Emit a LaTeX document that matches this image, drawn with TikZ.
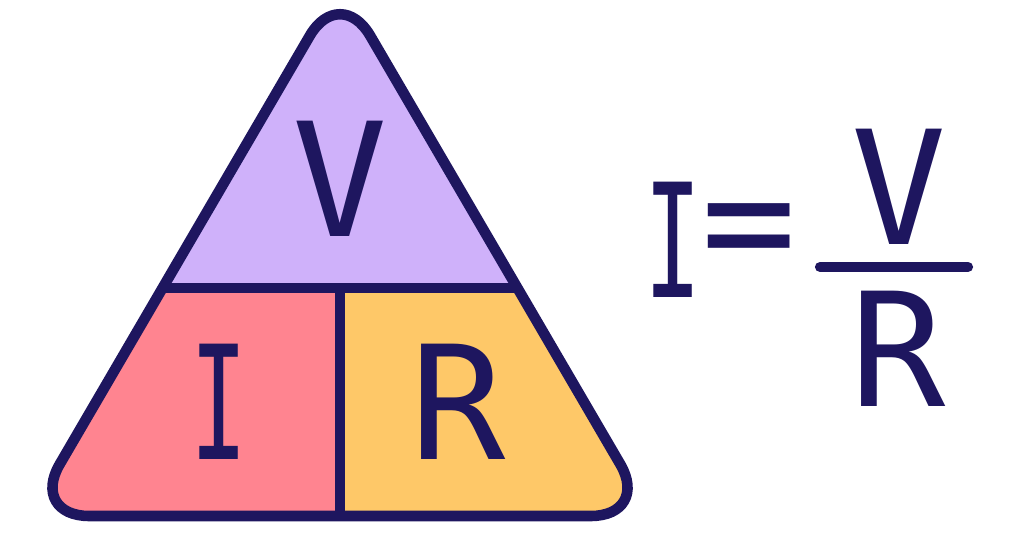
\documentclass[tikz,border=0pt]{standalone}
\usepackage{fontspec}
\newfontfamily\glyphfont{DejaVu Sans Mono}
\definecolor{ink}{RGB}{30,22,95}
\definecolor{lilac}{RGB}{207,177,250}
\definecolor{rose}{RGB}{255,132,144}
\definecolor{amber}{RGB}{254,200,104}
\tikzset{
  px/.style={x={(0.01cm,0cm)}, y={(0cm,-0.01cm)}},
  frame/.style={ink, line width=3pt, line join=round, rounded corners=17pt},
  divider/.style={ink, line width=3pt},
  letter/.style={ink, inner sep=0pt, font=\glyphfont\fontsize{45}{54}\selectfont},
  narrow/.style={letter, xscale=0.6},
  fracbar/.style={ink, line width=2.9pt, line cap=round},
}

\begin{document}
\begin{tikzpicture}[px]
  \useasboundingbox (0,0) rectangle (1024,536);

  % --- coloured parts of the triangle ---
  \begin{scope}
    \clip[rounded corners=17pt] (340,516) -- (650.5,516) -- (340,-16) -- (29.5,516) -- cycle;
    \fill[lilac] (0,-20) rectangle (1024,288);
    \fill[rose]  (0,288) rectangle (340,540);
    \fill[amber] (340,288) rectangle (1024,540);
  \end{scope}

  % --- dividers ---
  \coordinate (hl) at (162.6,288);
  \coordinate (hr) at (517.4,288);
  \coordinate (vt) at (340,288);
  \coordinate (vb) at (340,516);
  \draw[divider] (hl) -- (hr);
  \draw[divider] (vt) -- (vb);

  % --- outline ---
  \draw[frame] (340,516) -- (650.5,516) -- (340,-16) -- (29.5,516) -- cycle;

  % --- letters in the triangle ---
  \node[letter] (tv) at (340,179) {V};
  \node[narrow] (ti) at (219,402) {I};
  \node[letter] (tr) at (458,402) {R};

  % --- formula I = V/R ---
  \node[narrow] (fi) at (673,240) {I};
  \node[letter] (feq) at (749,240) {=};
  \node[letter] (fv) at (899,187) {V};
  \node[letter] (fr) at (898,349) {R};
  \coordinate (bl) at (820,267);
  \coordinate (br) at (968,267);
  \draw[fracbar] (bl) -- (br);
\end{tikzpicture}
\end{document}
